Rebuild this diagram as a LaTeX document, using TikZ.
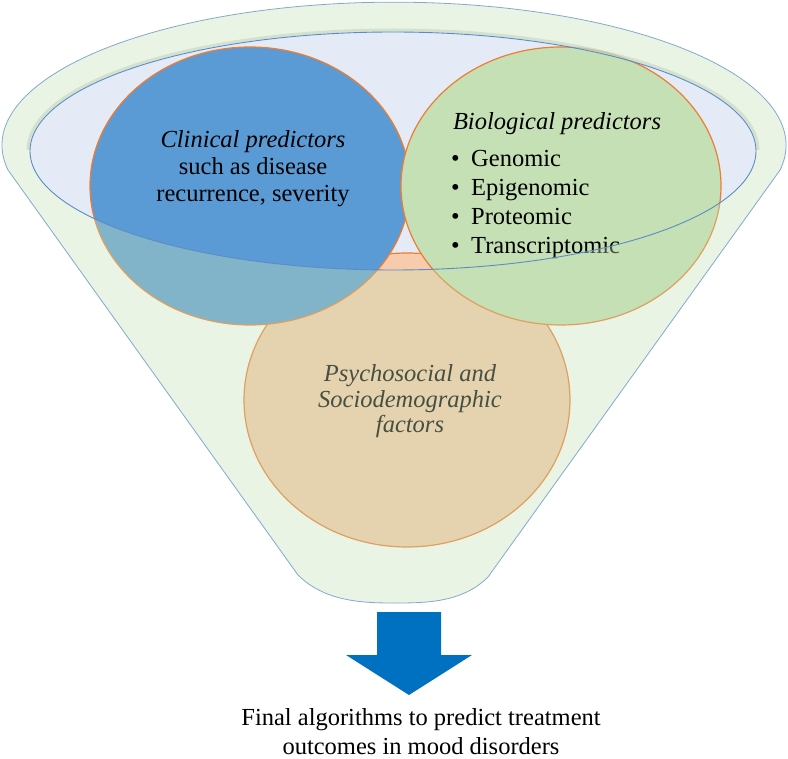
\documentclass[tikz,border=0pt]{standalone}
\usepackage{fontspec}
\setmainfont{Liberation Serif}
\usepackage{xcolor}
\usepackage{tikz}
\usetikzlibrary{positioning}

\definecolor{funnelgreen}{RGB}{197,224,180}
\definecolor{openblue}{RGB}{229,235,246}
\definecolor{clinblue}{RGB}{91,155,213}
\definecolor{psypeach}{RGB}{248,203,173}
\definecolor{ringorange}{RGB}{237,125,49}
\definecolor{edgeblue}{RGB}{130,168,212}
\definecolor{rimblue}{RGB}{90,140,200}
\definecolor{rimshade}{RGB}{196,214,192}
\definecolor{arrowblue}{RGB}{0,112,192}

\begin{document}
\begin{tikzpicture}[x=1pt, y=-1pt,
  blob/.style={draw=ringorange, line width=1.2pt},
  txt/.style={font=\fontsize{24.5}{27}\selectfont, anchor=base, inner sep=0pt}]
  \useasboundingbox (0,0) rectangle (788,759);

  % Funnel opening
  \fill[openblue] (393,151) ellipse [x radius=363, y radius=119];

  % Predictor circles
  \fill[psypeach, blob] (407,400) ellipse [x radius=163, y radius=147];
  \fill[clinblue, blob] (250,186) ellipse [x radius=160, y radius=139];
  \fill[funnelgreen, blob] (561,186) ellipse [x radius=160, y radius=139];

  % Clinical predictors
  \node[txt] (clin1) at (253,148) {\textit{Clinical predictors}};
  \node[txt] (clin2) at (253,175) {such as disease};
  \node[txt] (clin3) at (253,202) {recurrence, severity};

  % Biological predictors
  \node[txt] (bio) at (557,130) {\textit{Biological predictors}};
  \foreach \omic [count=\i] in {Genomic, Epigenomic, Proteomic, Transcriptomic} {
    \node[txt, anchor=base west] (dot\i) at (451,{167+29*(\i-1)}) {•};
    \node[txt, anchor=base west] (bio\i) at (471,{167+29*(\i-1)}) {\omic};
  }

  % Psychosocial factors
  \node[txt] (psy1) at (410,382) {\textit{Psychosocial and}};
  \node[txt] (psy2) at (410,408) {\textit{Sociodemographic}};
  \node[txt] (psy3) at (410,433) {\textit{factors}};

  % Funnel body, see-through over the circles
  \fill[funnelgreen, fill opacity=0.36, even odd rule]
    (8,170) arc [start angle=170, end angle=370, x radius=392, y radius=143]
    -- (488,577) .. controls (462,603) and (425,603) .. (393,603)
    .. controls (361,603) and (324,601) .. (298,575) -- cycle
    (393,151) ellipse [x radius=363, y radius=119];
  \draw[rimshade, opacity=0.6, line width=3pt]
    (28,150) arc [start angle=180, end angle=360, x radius=365, y radius=120];
  \draw[rimblue, line width=0.9pt] (393,151) ellipse [x radius=363, y radius=119];
  \draw[edgeblue, line width=0.8pt]
    (8,170) arc [start angle=170, end angle=370, x radius=392, y radius=143]
    -- (488,577) .. controls (462,603) and (425,603) .. (393,603)
    .. controls (361,603) and (324,601) .. (298,575) -- cycle;

  % Output arrow
  \fill[arrowblue] (377,612) -- (441,612) -- (441,655) -- (472,655)
    -- (409,695) -- (346,655) -- (377,655) -- cycle;

  % Result
  \node[txt] (final1) at (421,725) {Final algorithms to predict treatment};
  \node[txt] (final2) at (421,754) {outcomes in mood disorders};
\end{tikzpicture}
\end{document}
